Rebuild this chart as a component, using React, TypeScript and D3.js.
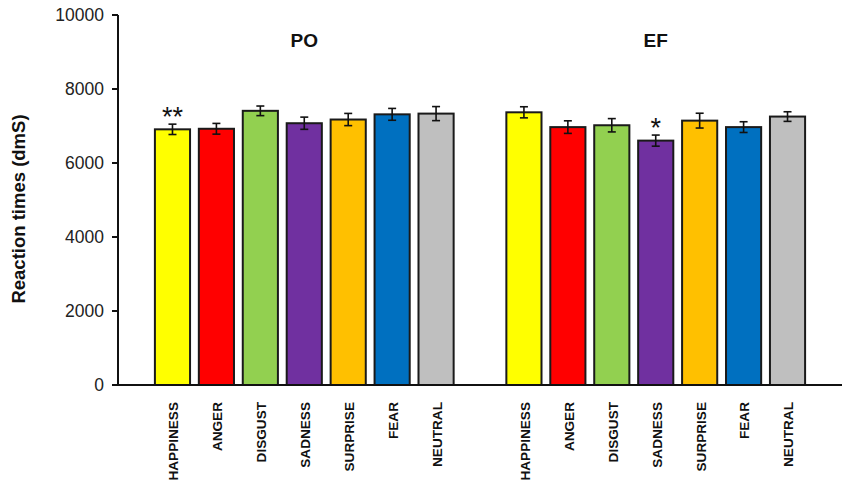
import React from 'react';
import * as d3 from 'd3';

const emotions = ['HAPPINESS', 'ANGER', 'DISGUST', 'SADNESS', 'SURPRISE', 'FEAR', 'NEUTRAL'];
const emotionColors = ['#FFFF00', '#FF0000', '#92D050', '#7030A0', '#FFC000', '#0070C0', '#BFBFBF'];
const groups = ['PO', 'EF'];

const poMeans = [6910, 6925, 7410, 7075, 7175, 7315, 7335];
const poErrors = [140, 145, 130, 165, 165, 160, 190];
const efMeans = [7370, 6970, 7020, 6605, 7145, 6970, 7255];
const efErrors = [150, 170, 180, 150, 200, 145, 130];

// significance marks: [group, emotion, label]
const marks: [string, string, string][] = [
  ['PO', 'HAPPINESS', '**'],
  ['EF', 'SADNESS', '*'],
];

const yTicks = [0, 2000, 4000, 6000, 8000, 10000];
const yLabel = 'Reaction times (dmS)';

const width = 850;
const height = 488;
const margin = { top: 15, right: 8, bottom: 103, left: 118 };

const font = 'Arial, "Liberation Sans", sans-serif';

interface Bar {
  key: string;
  group: string;
  emotion: string;
  color: string;
  mean: number;
  err: number;
}

const bars: Bar[] = [];
groups.forEach((g, gi) => {
  const means = gi === 0 ? poMeans : efMeans;
  const errs = gi === 0 ? poErrors : efErrors;
  emotions.forEach((e, i) => {
    bars.push({ key: `${g}-${e}`, group: g, emotion: e, color: emotionColors[i], mean: means[i], err: errs[i] });
  });
});

// one empty slot between the two groups
const slots = [
  ...emotions.map((e) => `PO-${e}`),
  'gap',
  ...emotions.map((e) => `EF-${e}`),
];

const App: React.FC = () => {
  const x = d3
    .scaleBand<string>()
    .domain(slots)
    .range([margin.left, width - margin.right])
    .paddingInner(0.2)
    .paddingOuter(0.84);

  const y = d3
    .scaleLinear()
    .domain([0, 10000])
    .range([height - margin.bottom, margin.top]);

  const bw = x.bandwidth();
  const cap = 4;
  const y0 = y(0);

  return (
    <svg
      width={width}
      height={height}
      style={{ position: 'absolute', left: 0, top: 0, background: '#fff' }}
      fontFamily={font}
    >
      {/* y axis */}
      <line x1={margin.left} x2={margin.left} y1={y(10000)} y2={y0} stroke="#111" strokeWidth={2} />
      {yTicks.map((t) => (
        <g key={t}>
          <line x1={margin.left - 6} x2={margin.left} y1={y(t)} y2={y(t)} stroke="#111" strokeWidth={2} />
          <text
            x={margin.left - 14}
            y={y(t)}
            dy="0.35em"
            textAnchor="end"
            fontSize={17.5}
            fill="#222"
          >
            {t}
          </text>
        </g>
      ))}
      <text
        transform={`translate(25,${(y(10000) + y0) / 2 + 9}) rotate(-90)`}
        textAnchor="middle"
        fontSize={18.5}
        fontWeight="bold"
        fill="#111"
      >
        {yLabel}
      </text>

      {/* bars */}
      {bars.map((b) => {
        const bx = x(b.key)!;
        const cx = bx + bw / 2;
        return (
          <g key={b.key}>
            <rect
              x={bx}
              y={y(b.mean)}
              width={bw}
              height={y0 - y(b.mean)}
              fill={b.color}
              stroke="#1a1a1a"
              strokeWidth={2}
            />
            <g stroke="#111" strokeWidth={1.6}>
              <line x1={cx} x2={cx} y1={y(b.mean + b.err)} y2={y(b.mean - b.err)} />
              <line x1={cx - cap} x2={cx + cap} y1={y(b.mean + b.err)} y2={y(b.mean + b.err)} />
              <line x1={cx - cap} x2={cx + cap} y1={y(b.mean - b.err)} y2={y(b.mean - b.err)} />
            </g>
            <text
              transform={`translate(${cx + 1},${y0 + 17}) rotate(-90)`}
              dy="0.36em"
              textAnchor="end"
              fontSize={13.6}
              fontWeight="bold"
              fill="#111"
            >
              {b.emotion}
            </text>
          </g>
        );
      })}

      {/* x axis */}
      <line x1={margin.left - 6} x2={width - margin.right} y1={y0} y2={y0} stroke="#111" strokeWidth={2} />

      {/* group titles */}
      {groups.map((g) => {
        const mid = x(`${g}-${emotions[3]}`)! + bw / 2;
        return (
          <text key={g} x={mid} y={47} textAnchor="middle" fontSize={19} fontWeight="bold" fill="#111">
            {g}
          </text>
        );
      })}

      {/* significance marks */}
      {marks.map(([g, e, label]) => {
        const b = bars.find((d) => d.key === `${g}-${e}`)!;
        return (
          <text
            key={b.key}
            x={x(b.key)! + bw / 2}
            y={y(b.mean + b.err) + 2}
            textAnchor="middle"
            fontSize={27}
            fill="#111"
          >
            {label}
          </text>
        );
      })}
    </svg>
  );
};

export default App;
